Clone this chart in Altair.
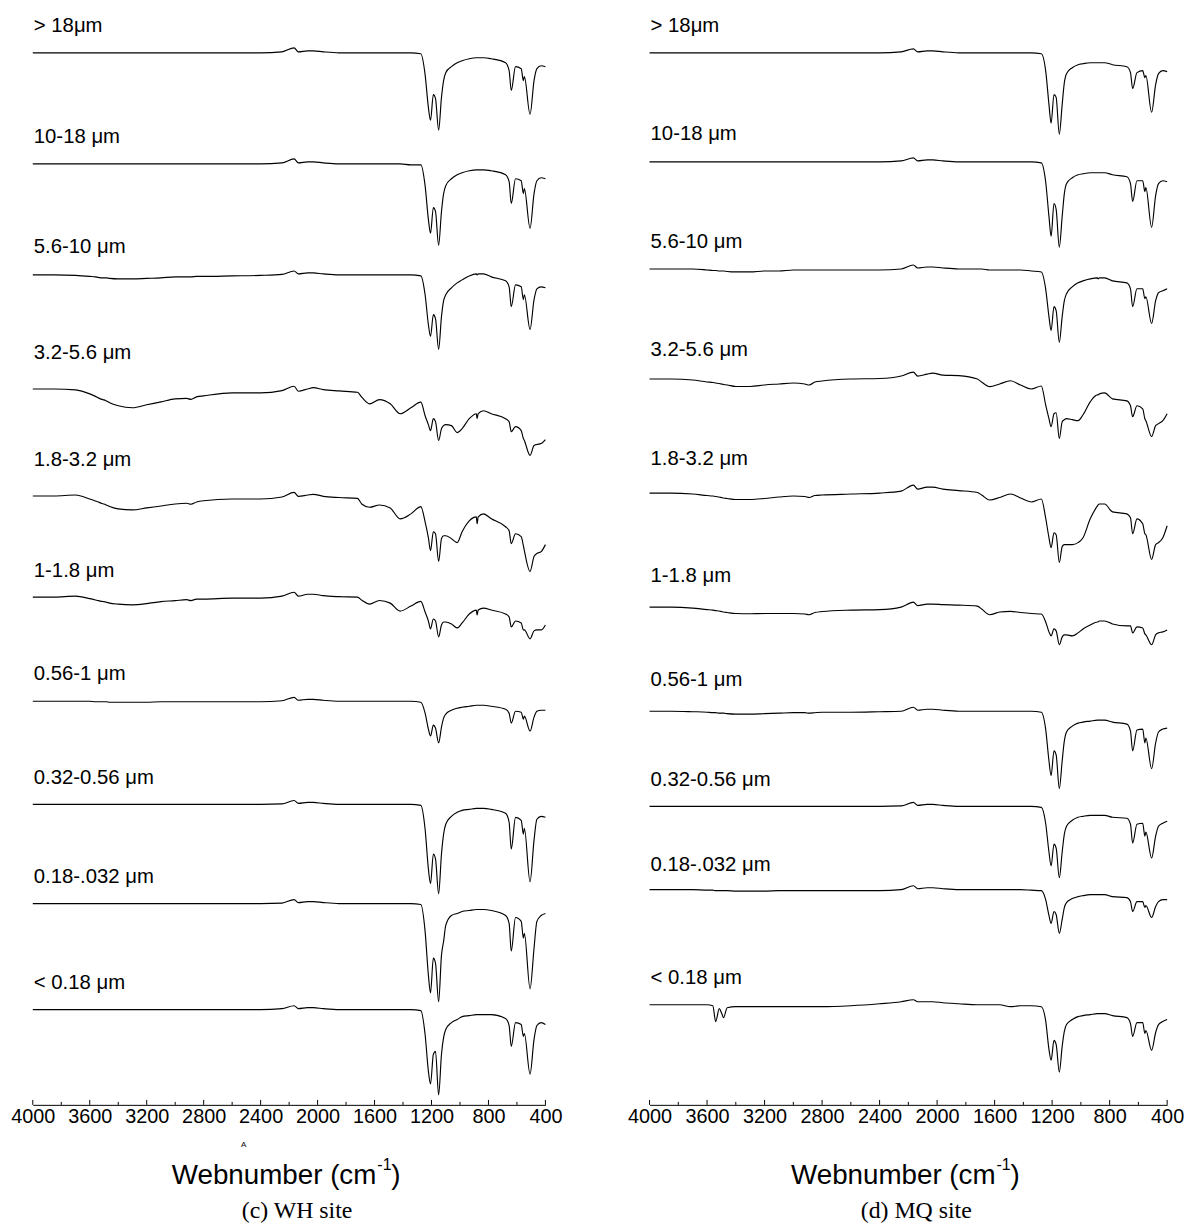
import altair as alt
import pandas as pd

WN = [4000, 3850, 3700, 3600, 3560, 3540, 3515, 3500, 3485, 3460, 3400, 3300, 3200, 3100, 3000,
      2920, 2890, 2850, 2800,
      2600, 2400, 2250, 2165, 2135, 2070, 2030, 1960, 1850, 1720, 1690, 1635, 1565, 1490, 1420, 1345,
      1275, 1245, 1222, 1207, 1187, 1172, 1150, 1130, 1115, 1100, 1060, 1020, 985, 935,
      885, 880, 872, 835, 780, 680, 655, 640, 610, 570, 555, 548, 508, 480, 460, 430, 400]

LABELS = ["> 18\u03bcm", "10-18 \u03bcm", "5.6-10 \u03bcm", "3.2-5.6 \u03bcm", "1.8-3.2 \u03bcm",
          "1-1.8 \u03bcm", "0.56-1 \u03bcm", "0.32-0.56 \u03bcm", "0.18-.032 \u03bcm", "< 0.18 \u03bcm"]

# absorption drop below each trace's own baseline (a.u.), one list per size fraction
WH = [
    [0, 0, 0, 0, 0, 0, 0, 0, 0, 0, 0, 0, 0, 0, 0, 0, 0, 0, 0,
     0, 0, -1, -5, -1, -2, -2, -1, 0, 0, 0, 0, 0, 0, 0, 0,
     1, 22, 55, 68, 42, 46, 78, 45, 28, 20, 14, 10, 8, 6,
     5, 5, 5, 5, 6, 10, 18, 38, 14, 16, 28, 24, 62, 28, 16, 13, 14],
    [0, 0, 0, 0, 0, 0, 0, 0, 0, 0, 0, 0, 0, 0, 0, 0, 0, 0, 0,
     0, 0, -1, -5, -1, -2, -2, -1, 0, 0, 0, 0, 0, 0, 0, 1,
     1, 22, 56, 70, 44, 48, 82, 48, 30, 22, 15, 11, 9, 7,
     6, 6, 6, 6, 7, 11, 18, 40, 15, 17, 30, 25, 65, 30, 17, 14, 15],
    [0, 0, 0.5, 1.5, 2, 2.5, 3, 3, 3, 3.5, 4, 4, 3.5, 3, 2, 2, 2, 1.5, 1.5,
     1, 0.5, -0.5, -4, -1, -2, -2, -1, 0, 0, 0, 0, 0, 0, 0, 0,
     1, 20, 50, 62, 40, 44, 75, 42, 26, 20, 13, 8, 5, 1,
     -1, 0, -1, -1, 2, 6, 12, 32, 10, 12, 25, 20, 55, 25, 14, 12, 13],
    [0, 0, 1, 5, 7.5, 9, 10.5, 11, 12, 14, 17, 19, 16, 13, 10, 9.5, 10.5, 8, 7,
     4, 4, 1.7, -2.7, 2.3, 0, -1.3, 0.7, 2, 3.3, 8.3, 15, 10.7, 15, 25, 19,
     13.3, 27, 36, 42, 30, 33, 52, 40, 37, 36, 37, 44, 40, 30,
     25, 30, 25, 22, 25, 30, 33, 43, 38, 42, 50, 52, 67, 57, 56, 55, 51],
    [0, 0, -1, 3, 5, 6, 7.5, 8, 9, 10.5, 13, 14, 12, 10, 8, 7.3, 8.3, 6, 4.7,
     3, 3, 1, -3.7, 0.3, -1, -1.7, 0.3, 1.5, 2.3, 8, 11.3, 9, 12, 23, 18,
     10.7, 26, 42, 55, 36, 38, 66, 43, 40, 40, 43, 47, 36, 25,
     21, 28, 21, 18, 23, 31, 35, 48, 38, 41, 50, 55, 76, 61, 58, 56, 49],
    [0, 0, -1, 1.5, 2.8, 3.5, 4.2, 4.5, 5, 6, 7, 7.7, 6.5, 4.5, 3.5, 2.5, 3.5, 2, 2,
     1, 1, -1, -5, -1, -3, -3, -1.5, -0.5, 0, 3, 7, 3.3, 6, 14, 9,
     4.3, 15, 24, 32, 22, 24, 40, 28, 25, 25, 27, 31, 26, 17,
     13, 18, 13, 11, 13, 17, 20, 30, 24, 26, 33, 33, 42, 34, 33, 33, 28],
    [0, 0, 0, 0, 0.5, 0.5, 0.5, 0.5, 0.5, 1, 1, 1, 1, 0.5, 0.5, 0.5, 0.5, 0.5, 0.5,
     0.5, 0.5, -0.5, -4, -1, -2, -2, -1, 0, 0, 0, 0, 0, 0, 0, 0,
     1, 12, 28, 35, 24, 27, 42, 26, 17, 13, 9, 7, 6, 5,
     4, 4, 4, 4, 5, 8, 12, 22, 10, 11, 18, 15, 30, 16, 10, 9, 9],
    [0, 0, 0, 0, 0, 0, 0, 0, 0, 0, 0, 0, 0, 0, 0, 0, 0, 0, 0,
     0, 0, -0.5, -4, -1, -2, -2, -1, 0, 0, 0, 0, 0, 0, 0, 0,
     1, 25, 65, 80, 50, 55, 90, 50, 30, 20, 12, 8, 6, 5,
     4, 4, 4, 4, 5, 9, 18, 45, 13, 16, 30, 24, 78, 36, 15, 12, 13],
    [0, 0, 0, 0, 0, 0, 0, 0, 0, 0, 0, 0, 0, 0, 0, 0, 0, 0, 0,
     0, 0, -0.5, -4, -1, -2, -2, -1, 0, 0, 0, 0, 0, 0, 0, 0,
     1, 28, 72, 90, 55, 60, 99, 52, 38, 22, 12, 10, 8, 7,
     6, 6, 6, 6, 7, 12, 20, 48, 14, 18, 35, 30, 86, 45, 18, 12, 10],
    [0, 0, 0, 0, 0, 0, 0, 0, 0, 0, 0, 0, 0, 0, 0, 0, 0, 0, 0,
     0, 0, -1, -4, -1, -2, -2, -1, 0, 0, 0, 0, 0, 0, 0, 0,
     1, 25, 62, 75, 45, 42, 86, 45, 28, 20, 13, 10, 7, 6,
     5, 5, 5, 5, 5, 9, 16, 37, 13, 15, 27, 24, 65, 30, 16, 13, 15],
]

MQ = [
    [0, 0, 0, 0, 0, 0, 0, 0, 0, 0, 0, 0, 0, 0, 0, 0, 0, 0, 0,
     0, 0, -1, -4, -1, -2, -2, -1, 0, 0, 0, 0, 0, 0, 0, 0,
     1, 18, 52, 71, 42, 45, 82, 52, 30, 21, 15, 12, 11, 10,
     10, 10, 10, 10, 12, 14, 20, 36, 20, 18, 25, 23, 60, 32, 21, 18, 19],
    [0, 0, 0, 0, 0, 0, 0, 0, 0, 0, 0, 0, 0, 0, 0, 0, 0, 0, 0,
     0, 0, -1, -4, -1, -2, -2, -1, 0, 0, 0, 0, 0, 0, 0, 0,
     1, 20, 55, 75, 42, 48, 86, 55, 32, 22, 16, 13, 12, 11,
     11, 11, 11, 11, 13, 15, 22, 40, 19, 19, 30, 26, 66, 34, 22, 19, 20],
    [0, 0, 0, 1, 1.5, 1.5, 2, 2, 2, 2.5, 3, 3, 2, 2, 1, 1, 1, 1, 1,
     1, 1, 0, -4, -1, -2, -2, -1, 0, 0, 0, 1, 1, 1, 1, 2,
     3, 20, 48, 62, 38, 42, 74, 48, 32, 25, 18, 14, 12, 10,
     9, 10, 9, 9, 12, 14, 20, 38, 20, 20, 30, 28, 55, 32, 24, 22, 20],
    [0, 0, 1, 3, 3.5, 4, 4.5, 5, 5.5, 6, 7.5, 7.5, 6, 5, 4, 5, 6, 3, 2,
     0, -0.5, -3, -7, -3, -5, -6, -4, -3.5, 0, 3, 7.7, 5, 1.7, 6, 10,
     7, 26, 40, 48, 35, 34, 60, 43, 41, 40, 41, 42, 36, 23,
     16, 16, 15, 14, 20, 22, 27, 38, 27, 30, 40, 42, 58, 47, 45, 42, 35],
    [0, 0, 1, 2.5, 3, 3.5, 4, 4.5, 5, 5.5, 6.5, 6.5, 5.5, 4, 3, 3.5, 4.5, 2.5, 2,
     1, 0, -2, -8, -4, -6, -6, -4, -2.5, -0.5, 2, 7, 4.5, 1, 5, 9,
     6, 25, 45, 55, 40, 42, 70, 54, 52, 52, 52, 50, 45, 26,
     13, 12, 11, 11, 19, 21, 25, 41, 26, 31, 41, 42, 67, 52, 50, 45, 33],
    [0, 0, 1, 2.5, 3, 3.5, 4, 4.5, 5, 5.5, 6.5, 6.7, 6.5, 6.5, 6.5, 7, 7.7, 5.5, 4.5,
     3, 2.5, 0, -5, -1.5, -3, -3, -2.5, -2, -1, 2, 7.7, 5, 4.3, 5.5, 6.5,
     7, 15, 25, 29, 22, 24, 38, 30, 28, 28, 29, 26, 22, 18,
     15, 15, 14, 14, 17, 19, 19, 26, 20, 21, 27, 28, 38, 28, 26, 25, 23],
    [0, 0, 0.5, 1, 1.5, 1.5, 2, 2, 2, 2.5, 3, 3, 2.5, 2, 1.5, 1.5, 2, 1.5, 1,
     1, 0.5, 0, -4, -1, -2, -2, -1, 0, 0, 0, 0, 0, 0, 0, 0,
     1, 18, 50, 65, 40, 44, 78, 50, 30, 21, 15, 12, 11, 10,
     9, 9, 9, 9, 11, 13, 20, 40, 19, 18, 32, 27, 58, 32, 21, 18, 17],
    [0, 0, 0, 0, 0, 0, 0, 0, 0, 0, 0, 0, 0, 0, 0, 0, 0, 0, 0,
     0, 0, -0.5, -4, -1, -2, -2, -1, 0, 0, 0, 0, 0, 0, 0, 0,
     1, 17, 46, 60, 38, 42, 72, 46, 28, 20, 14, 11, 10, 9,
     9, 9, 9, 9, 11, 12, 18, 37, 18, 17, 30, 26, 52, 30, 20, 17, 15],
    [0, 0, 0, 0.5, 0.5, 1, 1, 1, 1, 1, 1.5, 1.5, 1.5, 1, 1, 1, 1, 1, 1,
     1, 1, 0, -4, -1, -2, -2, -1, 0, 0, 0, 0, 0, 0, 0, 0.5,
     1, 10, 26, 34, 22, 25, 44, 30, 18, 13, 9, 7, 6, 5,
     5, 5, 5, 5, 7, 8, 12, 22, 12, 12, 18, 16, 28, 17, 12, 10, 10],
    [0, 0, 0, 0, 1, 17, 4, 8, 13, 3, 2, 2, 2, 2, 2, 2, 2, 2, 2,
     1, -1, -3, -5, -3, -3, -3, -2, -1, 0, 0, 0, 0, 2, 1, 1,
     2, 16, 45, 56, 36, 40, 68, 42, 27, 20, 15, 12, 11, 10,
     9, 9, 9, 9, 11, 13, 19, 32, 18, 18, 29, 26, 46, 28, 20, 17, 15],
]

# vertical stacking step of each trace (a.u. from the top of the panel)
WH_OFFSET = [40, 152, 264, 379, 487, 589, 694, 798, 898, 1005]
MQ_OFFSET = [40, 150, 258, 369, 484, 599, 704, 800, 884, 1000]
# gap between each trace and its label
WH_GAP = [27, 27, 28, 36, 36, 26, 27, 27, 27, 27]
MQ_GAP = [27, 28, 27, 29, 34, 31, 31, 27, 25, 27]

MAJOR = [4000, 3600, 3200, 2800, 2400, 2000, 1600, 1200, 800, 400]
MINOR = [3800, 3400, 3000, 2600, 2200, 1800, 1400, 1000, 600]

H = 1101
SANS = "Liberation Sans, Arial, Helvetica"
NARROW = "Liberation Sans Narrow, Arial Narrow, Liberation Sans, Arial"
SERIF = "Liberation Serif, Times New Roman, Times"

for lst in WH + MQ:
    assert len(lst) == len(WN)


def xscale():
    return alt.Scale(domain=[400, 4000], reverse=True, nice=False, zero=False)


def panel(depths, offsets, gaps, width, caption):
    rows = []
    for k, (dep, off) in enumerate(zip(depths, offsets)):
        for wn, d in zip(WN, dep):
            rows.append({"s": k, "wn": wn, "y": -(off + d)})
    df = pd.DataFrame(rows)
    lab = pd.DataFrame({"label": LABELS, "wn": [4000] * len(LABELS),
                        "y": [-(o - g) for o, g in zip(offsets, gaps)]})

    xsc = xscale()
    ysc = alt.Scale(domain=[-H, 0], nice=False, zero=False)
    xaxis = alt.Axis(values=MAJOR, ticks=False, grid=False, domainColor="black",
                     domainWidth=1, labelFont=NARROW, labelFontSize=20,
                     labelColor="black", labelPadding=2, title=None,
                     labelFlush=False, labelOverlap=False, format="d")

    lines = alt.Chart(df).mark_line(color="black", strokeWidth=1.15,
                                    interpolate="monotone").encode(
        x=alt.X("wn:Q", scale=xsc, axis=xaxis),
        y=alt.Y("y:Q", scale=ysc, axis=None),
        detail="s:N",
    )
    labels = alt.Chart(lab).mark_text(align="left", baseline="middle", dx=1,
                                      font=SANS, fontSize=20.5, color="black").encode(
        x=alt.X("wn:Q", scale=xsc), y=alt.Y("y:Q", scale=ysc), text="label:N")

    major = alt.Chart(pd.DataFrame({"wn": MAJOR})).mark_rule(color="black", strokeWidth=1).encode(
        x=alt.X("wn:Q", scale=xsc), y=alt.value(H), y2=alt.value(H - 5))
    minor = alt.Chart(pd.DataFrame({"wn": MINOR})).mark_rule(color="black", strokeWidth=1).encode(
        x=alt.X("wn:Q", scale=xsc), y=alt.value(H), y2=alt.value(H - 3))

    xc = width / 2
    one = pd.DataFrame({"t": ["Webnumber (cm"], "s": ["-1"], "p": [")"], "c": [caption]})
    t_main = alt.Chart(one).mark_text(align="right", baseline="middle", font=SANS,
                                      fontSize=28, color="black").encode(
        x=alt.value(xc + 88), y=alt.value(H + 72), text="t:N")
    t_sup = alt.Chart(one).mark_text(align="left", baseline="middle", font=SANS,
                                     fontSize=16, color="black").encode(
        x=alt.value(xc + 89), y=alt.value(H + 61), text="s:N")
    t_par = alt.Chart(one).mark_text(align="left", baseline="middle", font=SANS,
                                     fontSize=28, color="black").encode(
        x=alt.value(xc + 103), y=alt.value(H + 72), text="p:N")
    cap = alt.Chart(one).mark_text(align="center", baseline="middle", font=SERIF,
                                   fontSize=24, color="black").encode(
        x=alt.value(xc + 8), y=alt.value(H + 107), text="c:N")

    return alt.layer(lines, labels, major, minor, t_main, t_sup, t_par, cap).properties(
        width=width, height=H)


left = panel(WH, WH_OFFSET, WH_GAP, 517, "(c) WH site")
mark_a = alt.Chart(pd.DataFrame({"a": ["A"], "wn": [2520]})).mark_text(
    fontSize=8, font=SANS, color="black", baseline="middle").encode(
    x=alt.X("wn:Q", scale=xscale()), y=alt.value(H + 41), text="a:N")
left = alt.layer(left, mark_a)
right = panel(MQ, MQ_OFFSET, MQ_GAP, 522, "(d) MQ site")

chart = alt.hconcat(left, right, spacing=105, bounds="flush").properties(
    padding={"left": 2, "top": 0, "right": 0, "bottom": 0},
    background="white",
).configure_view(strokeWidth=0)

chart.save("out.html", embed_options={"renderer": "svg", "actions": False})
